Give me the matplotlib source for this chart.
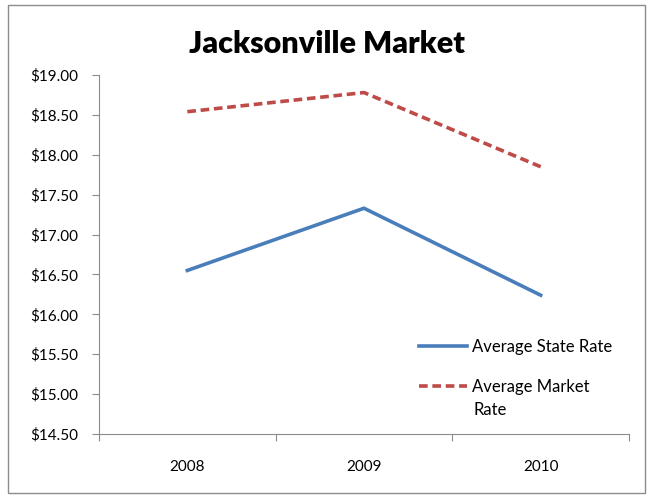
import matplotlib
matplotlib.use("Agg")
import matplotlib.pyplot as plt
from matplotlib.patches import Rectangle
from matplotlib.ticker import FuncFormatter

years = ["2008", "2009", "2010"]
state_rate = [16.55, 17.33, 16.24]
market_rate = [18.54, 18.78, 17.85]

plt.rcParams["font.family"] = ["Lato", "DejaVu Sans"]

fig = plt.figure(figsize=(6.51, 4.98), dpi=100)
fig.patches.append(Rectangle((8 / 651, 5 / 498), 637 / 651, 488 / 498, transform=fig.transFigure,
                             fill=False, edgecolor="#8c8c8c", linewidth=1))
ax = fig.add_axes([99 / 651, 1 - 434 / 498, 530 / 651, 359 / 498])

x = list(range(1, len(years) + 1))
ax.plot(x, state_rate, color="#4A7EBB", linewidth=2.6, label="Average State Rate")
ax.plot(x, market_rate, color="#BE4B48", linewidth=2.6, linestyle=(0, (2.4, 1.3)),
        label="Average Market")

ax.set_xlim(0.5, 3.5)
ax.set_ylim(14.5, 19.0)
ax.set_yticks([14.5 + 0.5 * i for i in range(10)])
ax.yaxis.set_major_formatter(FuncFormatter(lambda v, p: "${:.2f}".format(v)))
ax.set_xticks([0.5, 1.5, 2.5, 3.5])
ax.set_xticklabels([])
ax.set_xticks(x, minor=True)
ax.set_xticklabels(years, minor=True)
ax.tick_params(axis="x", which="minor", length=0, pad=19, labelsize=11)
ax.tick_params(axis="x", which="major", length=5, color="#8c8c8c", direction="out")
ax.tick_params(axis="y", length=5, color="#8c8c8c", labelsize=11, pad=10)
for s in ["top", "right"]:
    ax.spines[s].set_visible(False)
for s in ["left", "bottom"]:
    ax.spines[s].set_color("#8c8c8c")

fig.text(0.502, 0.912, "Jacksonville Market", ha="center", va="center", fontsize=22, fontweight="heavy")

leg = fig.legend(loc="upper left", bbox_to_anchor=(404 / 651, 1 - 324 / 498), frameon=False,
                 fontsize=12, handlelength=2.9, labelspacing=1.45, handletextpad=0.3)
# second line of the wrapped legend label, as Excel shows it
fig.text(474 / 651, 1 - 410 / 498, "Rate", ha="left", va="center", fontsize=12)

fig.savefig("out.png", dpi=100)
